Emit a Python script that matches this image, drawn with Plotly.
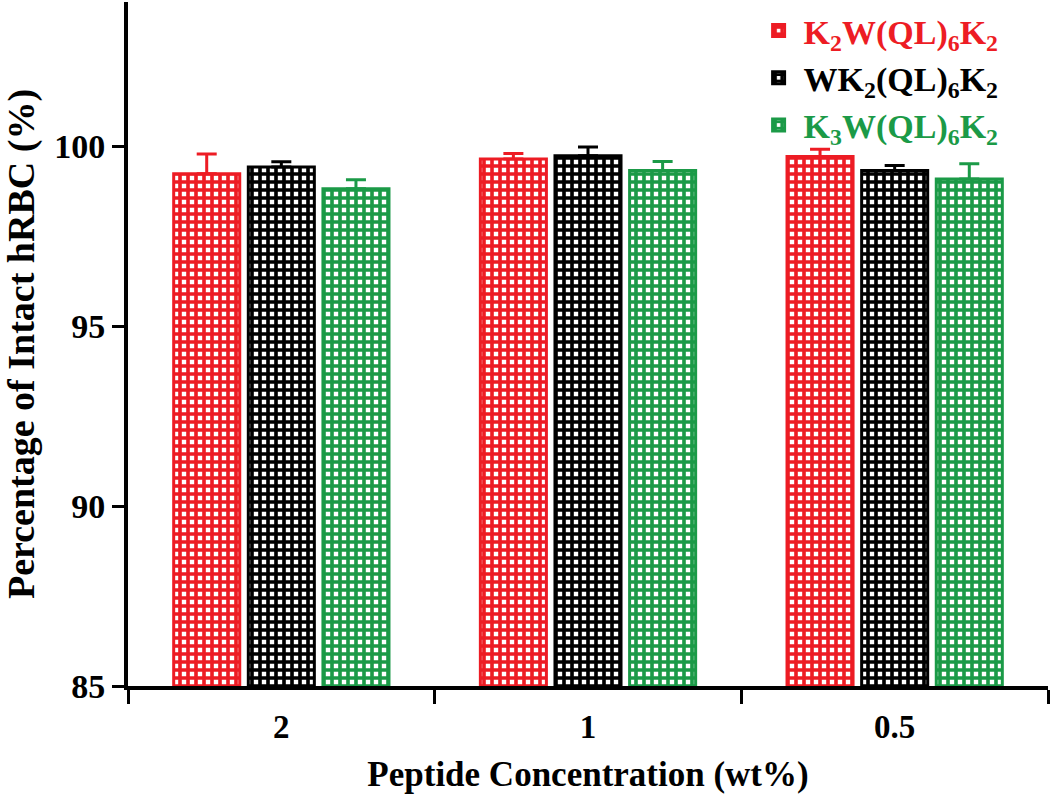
import plotly.graph_objects as go

# Peptide concentrations (wt%) and hRBC integrity readings
concentrations = ["2", "1", "0.5"]

series_names = [
    "K<sub>2</sub>W(QL)<sub>6</sub>K<sub>2</sub>",
    "WK<sub>2</sub>(QL)<sub>6</sub>K<sub>2</sub>",
    "K<sub>3</sub>W(QL)<sub>6</sub>K<sub>2</sub>",
]
series_colors = ["#ED1C24", "#000000", "#1B9A47"]

k2w_values = [99.23, 99.64, 99.71]
k2w_errors = [0.55, 0.15, 0.20]

wk2_values = [99.42, 99.73, 99.32]
wk2_errors = [0.14, 0.24, 0.14]

k3w_values = [98.81, 99.32, 99.08]
k3w_errors = [0.25, 0.25, 0.43]

values = [k2w_values, wk2_values, k3w_values]
errors = [k2w_errors, wk2_errors, k3w_errors]

FONT = "Liberation Serif"

fig = go.Figure()

for name, color, vals, errs in zip(series_names, series_colors, values, errors):
    fig.add_trace(go.Bar(
        x=concentrations,
        y=vals,
        name=f'<span style="color:{color}">{name}</span>',
        marker=dict(
            color=color,
            line=dict(color=color, width=3),
            pattern=dict(shape="+", fgcolor=color, bgcolor="white",
                         size=8, solidity=0.7, fillmode="replace"),
        ),
        error_y=dict(type="data", array=errs, arrayminus=[0] * len(errs),
                     symmetric=False, color=color, thickness=3, width=10),
    ))

fig.update_layout(
    width=1050,
    height=798,
    plot_bgcolor="white",
    paper_bgcolor="white",
    barmode="group",
    bargap=0.27,
    bargroupgap=0.115,
    margin=dict(t=2, b=112, l=128, r=2),
    font=dict(family=FONT, color="black", weight="bold"),
    legend=dict(
        x=0.68, y=1.0, xanchor="left", yanchor="top",
        font=dict(family=FONT, size=34, weight="bold"),
        bgcolor="rgba(0,0,0,0)",
        itemwidth=40,
        tracegroupgap=0,
    ),
    xaxis=dict(
        type="category",
        automargin=False,
        showline=True, linecolor="black", linewidth=4,
        ticks="outside", tickson="boundaries", ticklen=14, tickwidth=3,
        tickcolor="black",
        ticklabelstandoff=8,
        tickfont=dict(family=FONT, size=33, weight="bold"),
        title=dict(text="Peptide Concentration (wt%)", standoff=19,
                   font=dict(family=FONT, size=35, weight="bold")),
        showgrid=False,
    ),
    yaxis=dict(
        range=[85, 104],
        tickvals=[85, 90, 95, 100],
        automargin=False,
        showline=True, linecolor="black", linewidth=4,
        ticks="outside", ticklen=12, tickwidth=3, tickcolor="black",
        tickfont=dict(family=FONT, size=34, weight="bold"),
        title=dict(text="Percentage of Intact hRBC (%)", standoff=24,
                   font=dict(family=FONT, size=38, weight="bold")),
        showgrid=False, zeroline=False,
    ),
)

# the page body has a default 8px margin; drop it so the figure sits at 0,0
fig.write_html("out.html", config={"displayModeBar": False},
               post_script="document.body.style.margin='0';")
